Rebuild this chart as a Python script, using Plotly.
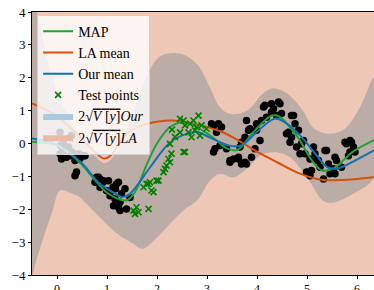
import plotly.graph_objects as go

# ---------------- data ----------------
# training points (black)
train_x = [0.06, 0.16, 0.09, 0.19, 0.29, 0.36, 0.46, 0.56, 0.39, 0.36, 0.79, 0.86, 0.92, 0.76, 0.86,
           0.99, 1.12, 1.19, 1.06, 1.16, 1.26, 1.23, 1.13, 1.29, 1.36, 1.39, 1.26, 1.46, 0.07, 0.13,
           0.23, 0.30, 0.43, 0.53, 0.83, 0.93, 1.03, 1.23, 1.17, 0.06, 0.29, 0.12,
           3.13, 3.23, 3.29, 3.19, 3.16, 3.13, 3.46, 3.53, 3.63, 3.09,
           3.79, 3.86, 3.76, 3.99, 4.06, 4.19, 4.13, 4.33, 4.46, 4.49, 4.39, 4.73, 4.76, 4.83,
           4.59, 4.66, 4.93, 5.13, 5.39, 5.79, 5.89, 5.93,
           4.16, 4.29, 4.43, 4.29, 4.09, 3.99, 3.83, 3.69, 3.66, 3.63, 3.76, 3.96,
           4.69, 4.63, 4.69, 4.79, 4.89, 4.96, 5.06, 5.16, 5.23, 5.36, 5.43, 5.56, 5.69, 5.09,
           5.06, 5.76, 5.86, 5.96, 5.83, 5.56,
           3.26, 3.39, 3.46, 3.69, 3.79, 3.89, 4.86, 4.99, 5.19, 5.26, 5.33, 5.46, 5.53, 5.59,
           5.86]
train_y = [-0.31, -0.21, -0.47, -0.42, -0.37, -0.52, -0.46, -0.37, -0.87, -0.98, -1.03, -1.08, -1.18, -1.18, -1.33,
           -1.43, -1.33, -1.23, -1.59, -1.69, -1.79, -1.94, -1.89, -1.53, -1.38, -1.99, -2.04, -1.64, -0.06, -0.01,
           -0.11, -0.26, -0.31, -0.37, -1.03, -1.13, -1.13, -1.18, -1.38, 0.34, 0.24, -0.15,
           0.55, 0.60, 0.50, 0.34, -0.16, -0.26, -0.57, -0.47, -0.42, 0.60,
           0.70, 0.45, 0.19, 0.40, 0.09, 0.80, 1.11, 1.06, 1.21, 0.91, 0.85, 0.85, 0.60, 0.40,
           0.30, 0.04, 0.09, -0.11, -0.21, -0.01, 0.04, -0.11,
           1.16, 1.21, 1.26, 0.95, 0.70, 0.60, 0.40, 0.04, -0.11, -0.47, -0.57, -0.16,
           0.85, 0.34, 0.19, -0.11, -0.01, -0.31, -0.47, -0.31, -0.52, -0.21, -0.62, -0.92, -0.72, -0.82,
           -0.98, 0.04, 0.09, -0.26, -0.37, -0.42,
           -0.06, -0.16, -0.52, -0.62, -0.62, -0.42, -0.31, -0.87, -0.52, -0.72, -1.08, -0.92, -0.77, -0.52,
           -0.26]

# test points (green x)
test_x = [1.53, 1.59, 1.56, 1.63, 1.83, 1.73, 1.79, 1.86, 1.89, 1.93, 1.99, 2.13, 2.16, 2.19, 2.23,
          2.29, 2.53, 2.26, 1.83, 2.03, 2.26, 2.56, 2.46, 2.56, 2.66, 2.73, 2.76, 2.83, 2.86, 2.69,
          2.63, 2.53, 2.46, 2.89, 2.99, 2.79, 2.30, 2.36]
test_y = [-2.04, -1.94, -2.14, -2.09, -1.99, -1.33, -1.23, -1.18, -1.43, -1.48, -1.13, -0.87, -0.77, -0.67, -0.47,
          -0.31, -0.26, -0.01, -1.23, -1.13, -0.57, -0.26, 0.34, 0.55, 0.60, 0.70, 0.40, 0.85, 0.24, 0.19,
          0.34, 0.70, 0.75, 0.55, 0.45, 0.50, 0.42, 0.20]

# MAP curve
map_x = [-0.5, 0.0, 0.25, 0.5, 0.75, 1.0, 1.25, 1.4, 1.55, 1.8, 2.0, 2.26, 2.52, 2.8, 3.12, 3.4, 3.6,
         3.96, 4.3, 4.45, 4.82, 5.1, 5.3, 5.56, 5.9, 6.34]
map_y = [0.05, -0.05, -0.3, -0.65, -1.1, -1.5, -1.7, -1.73, -1.5, -0.62, 0.0, 0.5, 0.65, 0.5, 0.18, -0.15, -0.2,
         0.4, 0.85, 0.82, 0.18, -0.52, -0.82, -0.73, -0.27, 0.1]

# LA mean curve
la_x = [-0.5, -0.25, 0.0, 0.25, 0.5, 0.75, 0.95, 1.1, 1.25, 1.4, 1.7, 2.0, 2.3, 2.6, 3.0, 3.3, 3.6,
        4.0, 4.4, 4.8, 5.2, 5.5, 6.0, 6.34]
la_y = [1.22, 1.05, 0.82, 0.5, 0.15, -0.25, -0.46, -0.32, 0.03, 0.3, 0.55, 0.66, 0.7, 0.65, 0.5, 0.35, 0.12,
        -0.25, -0.57, -0.88, -1.08, -1.12, -1.08, -1.03]

# Our mean curve
our_x = [-0.5, -0.1, 0.16, 0.5, 0.84, 1.16, 1.28, 1.42, 1.55, 1.86, 2.26, 2.6, 2.8, 3.06, 3.32, 3.5,
         3.7, 3.96, 4.36, 4.56, 4.9, 5.16, 5.42, 5.62, 5.96, 6.34]
our_y = [0.15, 0.03, -0.2, -0.6, -1.2, -1.52, -1.62, -1.58, -1.38, -0.73, 0.03, 0.3, 0.35, 0.18, 0.0, -0.08,
         -0.05, 0.3, 0.76, 0.64, 0.18, -0.3, -0.73, -0.76, -0.52, -0.21]

# Our band (2 sqrt(V[y]) Our)
our_up_x = [-0.5, -0.4, -0.2, 0.0, 0.2, 0.4, 0.6, 0.8, 0.95, 1.1, 1.3, 1.5, 1.75, 2.06, 2.46, 2.7, 2.86,
            3.06, 3.26, 3.46, 3.8, 4.12, 4.32, 4.6, 4.92, 5.12, 5.4, 5.72, 6.06, 6.34]
our_up_y = [4.6, 4.0, 2.6, 1.6, 0.9, 0.35, -0.05, -0.45, -0.6, -0.45, 0.05, 0.9, 1.9, 2.65, 2.74, 2.55, 2.3,
            1.7, 1.1, 0.9, 1.0, 1.52, 1.68, 1.52, 1.0, 0.49, 0.3, 0.4, 1.1, 2.0]
our_lo_x = [-0.5, -0.47, -0.3, -0.1, 0.06, 0.26, 0.46, 0.6, 0.86, 1.2, 1.52, 1.72, 2.0, 2.32, 2.6, 2.8,
            3.06, 3.26, 3.52, 3.8, 4.06, 4.4, 4.66, 5.0, 5.32, 5.52, 5.92, 6.34]
our_lo_y = [-4.6, -3.9, -3.0, -2.1, -1.43, -1.5, -1.64, -1.85, -2.25, -2.74, -3.05, -3.2, -2.86, -2.35, -1.95,
            -1.74, -1.13, -0.92, -1.03, -0.77, -0.37, -0.27, -0.42, -1.03, -1.74, -1.8, -1.53, -1.03]

# LA band (2 sqrt(V[y]) LA) - extends beyond the axis everywhere
la_band_x = [-0.6, 1.0, 2.5, 4.0, 5.5, 6.5]
la_band_up = [6.2, 5.5, 5.7, 4.8, 4.9, 5.0]
la_band_lo = [-5.8, -6.5, -5.3, -5.3, -7.1, -7.0]

xticks = [0, 1, 2, 3, 4, 5, 6]
yticks = [-4, -3, -2, -1, 0, 1, 2, 3, 4]

# ---------------- styles ----------------
C_LA_BAND = "rgb(238,199,183)"
C_OUR_BAND = "rgb(187,172,166)"
C_OUR_PATCH = "rgb(168,204,222)"
C_LA_PATCH = "rgb(234,186,168)"
C_MAP = "rgb(34,160,55)"
C_LA = "rgb(213,80,10)"
C_OUR = "rgb(16,114,178)"
C_TEST = "rgb(0,128,0)"
FONT = "Liberation Serif"

fig = go.Figure()

fig.add_trace(go.Scatter(
    x=la_band_x + la_band_x[::-1], y=la_band_up + la_band_lo[::-1],
    fill="toself", fillcolor=C_LA_BAND, mode="lines", line=dict(width=0),
    showlegend=False, hoverinfo="skip"))

fig.add_trace(go.Scatter(
    x=our_up_x + our_lo_x[::-1], y=our_up_y + our_lo_y[::-1],
    fill="toself", fillcolor=C_OUR_BAND, mode="lines", line=dict(width=0),
    line_shape="spline", showlegend=False, hoverinfo="skip"))

fig.add_trace(go.Scatter(
    x=train_x, y=train_y, mode="markers",
    marker=dict(color="black", size=7.5, line=dict(width=0)), showlegend=False))

fig.add_trace(go.Scatter(x=map_x, y=map_y, mode="lines", name="MAP", line_shape="spline",
                         line=dict(color=C_MAP, width=2)))
fig.add_trace(go.Scatter(x=la_x, y=la_y, mode="lines", name="LA mean", line_shape="spline",
                         line=dict(color=C_LA, width=2)))
fig.add_trace(go.Scatter(x=our_x, y=our_y, mode="lines", name="Our mean", line_shape="spline",
                         line=dict(color=C_OUR, width=2)))
fig.add_trace(go.Scatter(x=test_x, y=test_y, mode="markers", name="Test points",
                         marker=dict(symbol="x-thin", size=6, line=dict(color=C_TEST, width=1.6))))

band_label = "2√<span style='text-decoration:overline'><i>V</i> [<i>y</i>]</span><i>%s</i>"
fig.add_trace(go.Scatter(x=[None], y=[None], mode="lines", fill="toself", fillcolor=C_OUR_PATCH,
                         line=dict(width=0, color=C_OUR_PATCH), name=band_label % "Our"))
fig.add_trace(go.Scatter(x=[None], y=[None], mode="lines", fill="toself", fillcolor=C_LA_PATCH,
                         line=dict(width=0, color=C_LA_PATCH), name=band_label % "LA"))

fig.update_layout(
    width=374, height=290,
    margin=dict(l=32, r=0, t=12, b=15, autoexpand=False),
    plot_bgcolor="white", paper_bgcolor="white",
    font=dict(family=FONT, size=14, color="black"),
    legend=dict(x=0.015, y=0.99, xanchor="left", yanchor="top", traceorder="normal",
                bgcolor="rgba(255,255,255,0.8)", bordercolor="rgb(210,210,210)", borderwidth=1,
                font=dict(family=FONT, size=14)),
    xaxis=dict(range=[-0.5, 6.34], tickvals=xticks, ticks="outside", ticklen=3, tickcolor="black",
               showline=True, linecolor="black", linewidth=1, mirror=True, showgrid=False,
               zeroline=False, automargin=False, ticklabeloverflow="allow",
               tickfont=dict(family=FONT, size=12)),
    yaxis=dict(range=[-4, 4], tickvals=yticks, ticks="outside", ticklen=3, tickcolor="black",
               showline=True, linecolor="black", linewidth=1, showgrid=False,
               zeroline=False, automargin=False, ticklabeloverflow="allow",
               tickfont=dict(family=FONT, size=13)),
)

# remove the default 8px page margin so the figure sits at the window's corner
fig.write_html("out.html", config={"displayModeBar": False},
               post_script="document.body.style.margin='0';")
